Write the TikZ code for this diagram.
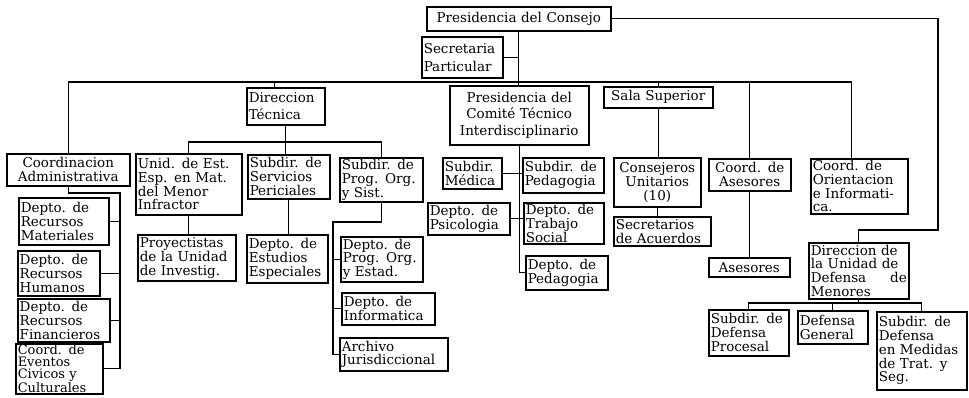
\documentclass[tikz,border=0pt]{standalone}
\usepackage{fontspec}
\setmainfont{DejaVu Serif}
\begin{document}
\begin{tikzpicture}[x=1pt,y=-1pt,
  orgbox/.style={draw,line width=1.5pt,anchor=north west,inner xsep=2pt,inner ysep=1pt,
    align=left,font=\fontsize{13.5}{13.8}\selectfont},
  link/.style={line width=1.3pt}]
\useasboundingbox (0,0) rectangle (969,397);
\node[orgbox,align=center,text width=180pt,minimum height=24pt] (consejo) at (426,6) {Presidencia del Consejo};
\node[orgbox,text width=77pt,minimum height=41pt] (secpart) at (421,36) {Secretaria\\[4pt]Particular};
\node[orgbox,text width=74pt,minimum height=37pt] (dirtec) at (246,87) {Direccion\\[3pt]Técnica};
\node[orgbox,align=center,text width=135pt,minimum height=59pt] (comite) at (449,85) {Presidencia del\\[3pt]Comité Técnico\\[3pt]Interdisciplinario};
\node[orgbox,align=center,text width=105pt,minimum height=21pt] (sala) at (603,86) {Sala Superior};
\node[orgbox,align=center,text width=119pt,minimum height=32pt] (coordadm) at (6,153) {Coordinacion\\Administrativa};
\node[orgbox,text width=102pt,minimum height=61pt] (unid) at (135,153) {Unid. de Est.\\Esp. en Mat.\\del Menor\\Infractor};
\node[orgbox,text width=78pt,minimum height=44pt] (servper) at (247,154) {Subdir. de\\Servicios\\Periciales};
\node[orgbox,text width=79pt,minimum height=44pt] (subprog) at (339,157) {Subdir. de\\Prog. Org.\\y Sist.};
\node[orgbox,text width=55pt,minimum height=31pt] (medica) at (442,157) {Subdir.\\Médica};
\node[orgbox,text width=77pt,minimum height=35pt] (subped) at (522,157) {Subdir. de\\Pedagogia};
\node[orgbox,align=center,text width=83pt,minimum height=49pt] (consej) at (613,157) {Consejeros\\Unitarios\\(10)};
\node[orgbox,align=center,text width=78pt,minimum height=32pt] (coordases) at (708,158) {Coord. de\\Asesores};
\node[orgbox,text width=93pt,minimum height=55pt] (orient) at (810,158) {Coord. de\\Orientacion\\e Informati-\\ca.};
\node[orgbox,text width=86pt,minimum height=47pt] (matl) at (18,197) {Depto. de\\Recursos\\Materiales};
\node[orgbox,text width=78pt,minimum height=45pt] (humanos) at (17,250) {Depto. de\\Recursos\\Humanos};
\node[orgbox,text width=88pt,minimum height=43pt] (financ) at (17,298) {Depto. de\\Recursos\\Financieros};
\node[orgbox,text width=83pt,minimum height=50pt,font=\fontsize{13}{12}\selectfont] (eventos) at (15,343) {Coord. de\\Eventos\\Civicos y\\Culturales};
\node[orgbox,text width=94pt,minimum height=46pt] (proy) at (137,234) {Proyectistas\\de la Unidad\\de Investig.};
\node[orgbox,text width=77pt,minimum height=48pt] (estud) at (246,234) {Depto. de\\Estudios\\Especiales};
\node[orgbox,text width=78pt,minimum height=32pt] (psic) at (427,202) {Depto. de\\Psicologia};
\node[orgbox,text width=76pt,minimum height=41pt] (trab) at (523,202) {Depto. de\\Trabajo\\Social};
\node[orgbox,text width=93pt,minimum height=29pt] (secacu) at (613,216) {Secretarios\\de Acuerdos};
\node[orgbox,text width=78pt,minimum height=45pt] (progest) at (340,236) {Depto. de\\Prog. Org.\\y Estad.};
\node[orgbox,text width=78pt,minimum height=34pt] (deptped) at (525,255) {Depto. de\\Pedagogia};
\node[orgbox,align=center,text width=77pt,minimum height=19pt] (asesores) at (708,257) {Asesores};
\node[orgbox,text width=96pt,minimum height=56pt] (dirdef) at (808,242) {Direccion de\\la Unidad de\\Defensa\hfill de\\Menores};
\node[orgbox,text width=89pt,minimum height=32pt] (inform) at (341,292) {Depto. de\\Informatica};
\node[orgbox,text width=104pt,minimum height=33pt] (archivo) at (339,337) {Archivo\\Jurisdiccional};
\node[orgbox,text width=76pt,minimum height=46pt] (procesal) at (708,309) {Subdir. de\\Defensa\\Procesal};
\node[orgbox,text width=66pt,minimum height=33pt] (defgen) at (797,310) {Defensa\\General};
\node[orgbox,text width=86pt,minimum height=78pt] (medidas) at (876,311) {Subdir. de\\Defensa\\en Medidas\\de Trat. y\\Seg.};
\coordinate (bus) at (520,82);
\coordinate (dtop) at ([xshift=-11pt]dirtec.north);
\coordinate (otop) at ([xshift=-8pt]orient.north);
\coordinate (rbend) at (938,230);
\coordinate (dbus) at (858,303);
\coordinate (tbus) at (283,142);
\coordinate (pbus) at (333,222);
\coordinate (abus) at (120,193);
\draw[link] (consejo.south) -- (consejo.south |- comite.north);
\draw[link] (secpart.east) -- (secpart.east -| consejo.south);
\draw[link] (coordadm.north) |- (otop |- bus) -- (otop);
\draw[link] (dtop) -- (dtop |- bus);
\draw[link] (sala.north) -- (sala.north |- bus);
\draw[link] (coordases.north) -- (coordases.north |- bus);
\draw[link] (sala.south) -- (sala.south |- consej.north);
\draw[link] (consej.south) -- (consej.south |- secacu.north);
\draw[link] (coordases.south) -- (coordases.south |- asesores.north);
\draw[link] (consejo.east) -| (rbend) -| (dirdef.north);
\draw[link] (procesal.north) |- (dbus) -| (medidas.north);
\draw[link] (dirdef.south) -- (dirdef.south |- dbus);
\draw[link] (defgen.north) -- (defgen.north |- dbus);
\draw[link] (unid.north) |- (tbus) -| (subprog.north);
\draw[link] (dirtec.south) -- (dirtec.south |- servper.north);
\draw[link] (unid.south) -- (unid.south |- proy.north);
\draw[link] (servper.south) -- (servper.south |- estud.north);
\draw[link] (subprog.south) |- (pbus) |- (archivo.west);
\draw[link] (pbus |- progest.west) -- (progest.west);
\draw[link] (pbus |- inform.west) -- (inform.west);
\draw[link] (coordadm.south) |- (abus) |- (eventos.east);
\draw[link] (abus |- matl.east) -- (matl.east);
\draw[link] (abus |- humanos.east) -- (humanos.east);
\draw[link] (abus |- financ.east) -- (financ.east);
\draw[link] (comite.south) |- (deptped.west);
\draw[link] (medica.east) -- (medica.east -| subped.west);
\draw[link] (psic.east) -- (psic.east -| trab.west);
\end{tikzpicture}
\end{document}
